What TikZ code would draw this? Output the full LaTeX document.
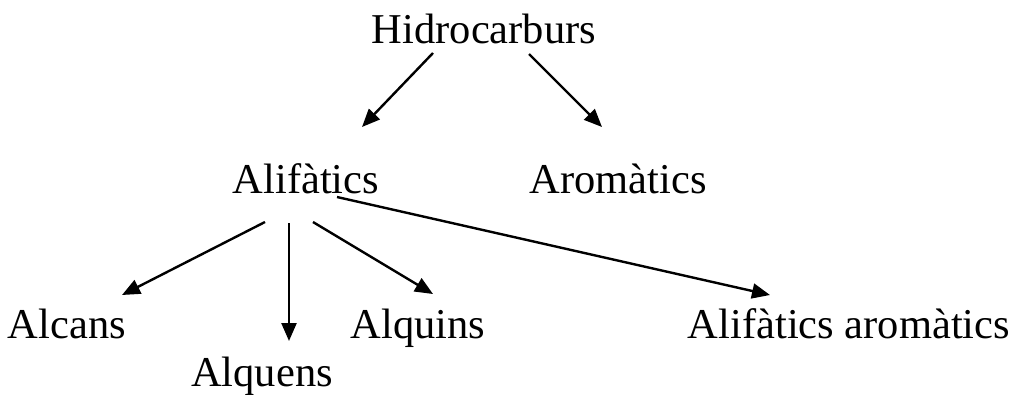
\documentclass[tikz,border=0pt]{standalone}
\usepackage{fontspec}
\setmainfont{Liberation Serif}
\usetikzlibrary{arrows.meta}
\begin{document}
\begin{tikzpicture}[x=1pt,y=-1pt,
  lbl/.style={anchor=base,inner sep=0pt,font=\fontsize{42.5}{50}\selectfont},
  arr/.style={line width=2.4pt,-{Triangle[length=18pt,width=15pt]}}]
\useasboundingbox (0,0) rectangle (1016,394);
\node[lbl] (hid) at (484,43) {Hidrocarburs};
\node[lbl] (ali) at (306,193) {Alifàtics};
\node[lbl] (aro) at (618,193) {Aromàtics};
\node[lbl] (alc) at (67,338) {Alcans};
\node[lbl] (alq) at (262,386) {Alquens};
\node[lbl] (alqi) at (418,338) {Alquins};
\node[lbl] (alar) at (849,338) {Alifàtics aromàtics};
\draw[arr] ([shift={(-51,10)}]hid.base) -- ([shift={(56,-66)}]ali.base);
\draw[arr] ([shift={(45,11)}]hid.base) -- ([shift={(-16,-66)}]aro.base);
\draw[arr] ([shift={(-41,29)}]ali.base) -- ([shift={(55,-43)}]alc.base);
\draw[arr] ([shift={(-17,30)}]ali.base) -- ([shift={(27,-45)}]alq.base);
\draw[arr] ([shift={(7,29)}]ali.base) -- ([shift={(15,-44)}]alqi.base);
\draw[arr] ([shift={(31,4)}]ali.base) -- ([shift={(-79,-43)}]alar.base);
\end{tikzpicture}
\end{document}
